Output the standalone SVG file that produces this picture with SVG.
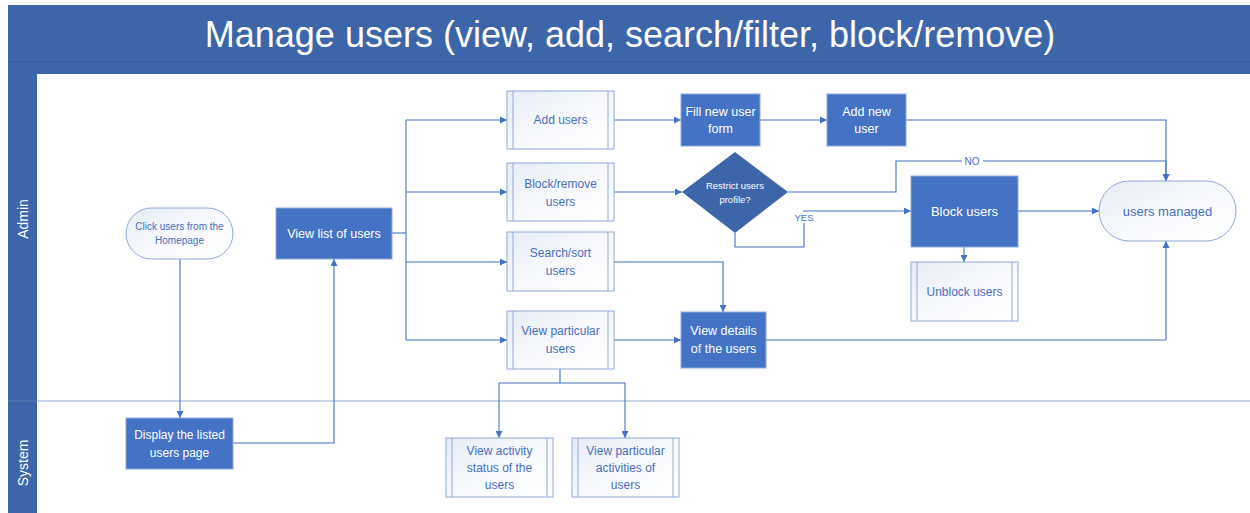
<svg xmlns="http://www.w3.org/2000/svg" width="1250" height="513" viewBox="0 0 1250 513">
<defs>
<linearGradient id="lg" x1="0" y1="0" x2="1" y2="1">
<stop offset="0" stop-color="#e6ecf6"/>
<stop offset="0.5" stop-color="#f7f9fc"/>
<stop offset="1" stop-color="#ffffff"/>
</linearGradient>
<marker id="ar" viewBox="0 0 10 10" refX="10" refY="5" markerWidth="7" markerHeight="7" markerUnits="userSpaceOnUse" orient="auto">
<path d="M0,0 L10,5 L0,10 z" fill="#4472c4"/>
</marker>
<style>
.band{fill:#3d65aa}
.t{font-family:"Liberation Sans",Arial,sans-serif;text-anchor:middle}
.w{fill:#ffffff}
.b{fill:#4a6fbf}
.proc{fill:#4472c4;stroke:#8faadc;stroke-width:1}
.sub{fill:url(#lg);stroke:#8faadc;stroke-width:1}
.sl{stroke:#8faadc;stroke-width:1}
.c{fill:none;stroke:#4472c4;stroke-width:1.1}
</style>
</defs>
<rect width="1250" height="513" fill="#ffffff"/>
<g id="pool">
<rect class="band" x="8" y="5" width="1242" height="69"/>
<line x1="8" y1="62" x2="1250" y2="62" stroke="#35599a" stroke-width="1"/>
<rect class="band" x="8" y="74" width="29" height="439"/>
<line x1="8" y1="401" x2="1250" y2="401" stroke="#8faadc" stroke-width="1.2"/>
<line x1="8" y1="401" x2="37" y2="401" stroke="#35599a" stroke-width="1"/>
<text class="t w" x="630" y="47" font-size="36">Manage users (view, add, search/filter, block/remove)</text>
<text class="t w" font-size="14" transform="translate(28,219) rotate(-90)">Admin</text>
<text class="t w" font-size="14" transform="translate(28,463) rotate(-90)">System</text>
</g>
<g id="connectors">
<path class="c" d="M180,259 V418" marker-end="url(#ar)"/>
<path class="c" d="M233,443 H334 V259" marker-end="url(#ar)"/>
<path class="c" d="M392,233 H406"/>
<path class="c" d="M406,120 V340"/>
<path class="c" d="M406,120 H507" marker-end="url(#ar)"/>
<path class="c" d="M406,192 H507" marker-end="url(#ar)"/>
<path class="c" d="M406,262 H507" marker-end="url(#ar)"/>
<path class="c" d="M406,340 H507" marker-end="url(#ar)"/>
<path class="c" d="M614,120 H681" marker-end="url(#ar)"/>
<path class="c" d="M760,120 H827" marker-end="url(#ar)"/>
<path class="c" d="M906,120 H1166 V181" marker-end="url(#ar)"/>
<path class="c" d="M614,192 H682" marker-end="url(#ar)"/>
<path class="c" d="M788,192 H896 V161 H1166 V181" marker-end="url(#ar)"/>
<path class="c" d="M735,233 V247 H804 V211 H911" marker-end="url(#ar)"/>
<path class="c" d="M1018,211 H1099" marker-end="url(#ar)"/>
<path class="c" d="M964,247 V262" marker-end="url(#ar)"/>
<path class="c" d="M614,262 H723 V312" marker-end="url(#ar)"/>
<path class="c" d="M614,340 H681" marker-end="url(#ar)"/>
<path class="c" d="M766,340 H1166 V241" marker-end="url(#ar)"/>
<path class="c" d="M560,369 V383 M499,383 H625"/>
<path class="c" d="M499,383 V438" marker-end="url(#ar)"/>
<path class="c" d="M625,383 V438" marker-end="url(#ar)"/>
<rect x="962" y="155" width="21" height="12" fill="#ffffff"/>
<text class="t b" x="972" y="165" font-size="10">NO</text>
<rect x="794" y="212" width="20" height="11" fill="#ffffff"/>
<text class="t b" x="804" y="221" font-size="9.5">YES</text>
</g>
<g id="click-users">
<rect class="sub" x="126" y="208" width="107" height="51" rx="25.5"/>
<text class="t b" font-size="10"><tspan x="179.5" y="230">Click users from the</tspan><tspan x="179.5" y="244">Homepage</tspan></text>
</g>
<g id="view-list">
<rect class="proc" x="276" y="208" width="116" height="51"/>
<text class="t w" x="334" y="238" font-size="12.5">View list of users</text>
</g>
<g id="display-listed">
<rect class="proc" x="126" y="418" width="107" height="51"/>
<text class="t w" font-size="12"><tspan x="179.5" y="439">Display the listed</tspan><tspan x="179.5" y="457">users page</tspan></text>
</g>
<g id="add-users">
<rect class="sub" x="507" y="91" width="107" height="58"/>
<line class="sl" x1="513" y1="91" x2="513" y2="149"/><line class="sl" x1="608" y1="91" x2="608" y2="149"/>
<text class="t b" x="560.5" y="124" font-size="12">Add users</text>
</g>
<g id="block-remove">
<rect class="sub" x="507" y="163" width="107" height="58"/>
<line class="sl" x1="513" y1="163" x2="513" y2="221"/><line class="sl" x1="608" y1="163" x2="608" y2="221"/>
<text class="t b" font-size="12"><tspan x="560.5" y="188">Block/remove</tspan><tspan x="560.5" y="206">users</tspan></text>
</g>
<g id="search-sort">
<rect class="sub" x="507" y="232" width="107" height="59"/>
<line class="sl" x1="513" y1="232" x2="513" y2="291"/><line class="sl" x1="608" y1="232" x2="608" y2="291"/>
<text class="t b" font-size="12"><tspan x="560.5" y="257">Search/sort</tspan><tspan x="560.5" y="275">users</tspan></text>
</g>
<g id="view-particular">
<rect class="sub" x="507" y="311" width="107" height="58"/>
<line class="sl" x1="513" y1="311" x2="513" y2="369"/><line class="sl" x1="608" y1="311" x2="608" y2="369"/>
<text class="t b" font-size="12"><tspan x="560.5" y="335">View particular</tspan><tspan x="560.5" y="353">users</tspan></text>
</g>
<g id="fill-form">
<rect class="proc" x="681" y="94" width="79" height="52"/>
<text class="t w" font-size="12.5"><tspan x="720.5" y="116">Fill new user</tspan><tspan x="720.5" y="133">form</tspan></text>
</g>
<g id="add-new-user">
<rect class="proc" x="827" y="94" width="79" height="52"/>
<text class="t w" font-size="12.5"><tspan x="866.5" y="116">Add new</tspan><tspan x="866.5" y="133">user</tspan></text>
</g>
<g id="restrict">
<polygon points="735,152 788,192 735,233 682,192" fill="#3d65aa"/>
<text class="t w" font-size="9.5"><tspan x="735" y="189">Restrict users</tspan><tspan x="735" y="203">profile?</tspan></text>
</g>
<g id="block-users">
<rect class="proc" x="911" y="176" width="107" height="71"/>
<text class="t w" x="964.5" y="216" font-size="13">Block users</text>
</g>
<g id="unblock-users">
<rect class="sub" x="911" y="262" width="107" height="59"/>
<line class="sl" x1="917" y1="262" x2="917" y2="321"/><line class="sl" x1="1012" y1="262" x2="1012" y2="321"/>
<text class="t b" x="964.5" y="296" font-size="12">Unblock users</text>
</g>
<g id="users-managed">
<rect class="sub" x="1099" y="181" width="137" height="60" rx="30"/>
<text class="t b" x="1167.5" y="216" font-size="13">users managed</text>
</g>
<g id="view-details">
<rect class="proc" x="681" y="312" width="85" height="56"/>
<text class="t w" font-size="12.5"><tspan x="723.5" y="335">View details</tspan><tspan x="723.5" y="353">of the users</tspan></text>
</g>
<g id="view-activity-status">
<rect class="sub" x="446" y="438" width="107" height="59"/>
<line class="sl" x1="452" y1="438" x2="452" y2="497"/><line class="sl" x1="547" y1="438" x2="547" y2="497"/>
<text class="t b" font-size="12"><tspan x="499.5" y="455">View activity</tspan><tspan x="499.5" y="472">status of the</tspan><tspan x="499.5" y="489">users</tspan></text>
</g>
<g id="view-particular-activities">
<rect class="sub" x="572" y="438" width="107" height="59"/>
<line class="sl" x1="578" y1="438" x2="578" y2="497"/><line class="sl" x1="673" y1="438" x2="673" y2="497"/>
<text class="t b" font-size="12"><tspan x="625.5" y="455">View particular</tspan><tspan x="625.5" y="472">activities of</tspan><tspan x="625.5" y="489">users</tspan></text>
</g>
</svg>
